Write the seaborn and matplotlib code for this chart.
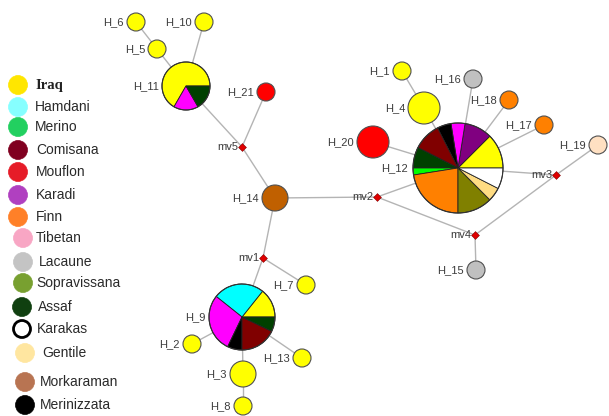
import matplotlib
matplotlib.use("Agg")
import matplotlib.pyplot as plt
from matplotlib.patches import Wedge, Circle
import seaborn as sns
import pandas as pd

sns.set_theme(style="white")
plt.rcParams['font.family'] = ['Liberation Sans', 'DejaVu Sans']

# ---- breeds / colours ----
breeds = ["Iraq", "Hamdani", "Merino", "Comisana", "Mouflon", "Karadi", "Finn", "Tibetan",
          "Lacaune", "Sopravissana", "Assaf", "Karakas", "Gentile", "Morkaraman", "Merinizzata"]
breed_colors = ["#FFFF00", "#00FFFF", "#00FF00", "#800000", "#FF0000", "#800080", "#FF8000", "#FF00FF",
                "#C0C0C0", "#808000", "#004000", "#FFFFFF", "#FFDC82", "#C06000", "#000000"]
legend_colors = ["#FFE600", "#86FFFF", "#22D060", "#800020", "#E61C28", "#B040C0", "#FF8028", "#F8A6C4",
                 "#C4C4C4", "#78A030", "#104010", "#FFFFFF", "#FFE6A0", "#B87452", "#000000"]
legend_y = [85, 107, 127, 150, 172, 195, 217, 238, 262, 283, 307, 329, 353, 382, 405]
legend_cx = [18, 18, 18, 18, 18, 18, 18, 23, 23, 23, 22, 22, 25, 25, 25]
legend_tx = [35, 35, 35, 36, 36, 36, 36, 36, 39, 36, 38, 37, 42, 40, 40]

# ---- single-colour haplotypes ----
hap_names = ["H_6", "H_10", "H_5", "H_21", "H_14", "H_20", "H_4", "H_1", "H_16", "H_18",
             "H_17", "H_19", "H_15", "H_7", "H_13", "H_2", "H_3", "H_8"]
hap_x = [136, 204, 157, 266, 275, 373, 424, 402, 473, 509, 544, 598, 476, 306, 302, 192, 243, 243]
hap_y = [22, 22, 49, 92, 198, 142, 108, 71, 79, 100, 125, 145, 270, 285, 358, 344, 374, 406]
hap_r = [9, 9, 9, 9, 13, 16, 16, 9, 9, 9, 9, 9, 9, 9, 9, 9, 13, 9]
hap_color = ["#FFFF00", "#FFFF00", "#FFFF00", "#FF0000", "#C06000", "#FF0000", "#FFFF00", "#FFFF00",
             "#C0C0C0", "#FF8000", "#FF8000", "#FFE0C2", "#C0C0C0", "#FFFF00", "#FFFF00", "#FFFF00",
             "#FFFF00", "#FFFF00"]

# ---- pie haplotypes ----
pie_names = ["H_11", "H_12", "H_9"]
pie_x = [186, 458, 242]
pie_y = [86, 168, 317]
pie_r = [24, 45, 33]
pie_breeds = [
    ["Iraq", "Tibetan", "Assaf"],
    ["Iraq", "Karadi", "Tibetan", "Merinizzata", "Comisana", "Assaf", "Merino", "Finn",
     "Sopravissana", "Gentile", "Karakas"],
    ["Iraq", "Hamdani", "Tibetan", "Merinizzata", "Comisana", "Assaf"],
]
pie_counts = [
    [4, 1, 1],
    [5, 4, 2, 2, 4, 3, 1, 9, 5, 2, 3],
    [2, 3.5, 4, 1, 2.5, 1],
]

# ---- median vectors ----
mv_names = ["mv5", "mv2", "mv3", "mv4", "mv1"]
mv_x = [242, 377, 556, 475, 263]
mv_y = [147, 197, 175, 235, 258]

# ---- links ----
links = [("H_6", "H_5"), ("H_5", "H_11"), ("H_10", "H_11"), ("H_11", "mv5"), ("H_21", "mv5"),
         ("mv5", "H_14"), ("H_14", "mv2"), ("H_14", "mv1"), ("mv1", "H_7"), ("mv1", "H_9"),
         ("H_9", "H_2"), ("H_9", "H_3"), ("H_3", "H_8"), ("H_9", "H_13"), ("mv2", "H_12"),
         ("mv2", "mv4"), ("mv4", "mv3"), ("mv3", "H_19"), ("mv3", "H_12"), ("mv4", "H_15"),
         ("H_12", "H_20"), ("H_12", "H_4"), ("H_4", "H_1"), ("H_12", "H_16"), ("H_12", "H_18"),
         ("H_12", "H_17")]

pos = {}
for n, x, y in zip(hap_names, hap_x, hap_y):
    pos[n] = (x, y)
for n, x, y in zip(pie_names, pie_x, pie_y):
    pos[n] = (x, y)
for n, x, y in zip(mv_names, mv_x, mv_y):
    pos[n] = (x, y)

W, H = 609, 416
fig = plt.figure(figsize=(W / 100, H / 100), dpi=100)
ax = fig.add_axes([0, 0, 1, 1])
ax.set_xlim(0, W)
ax.set_ylim(H, 0)
ax.axis("off")

# edges
for a, b in links:
    (x1, y1), (x2, y2) = pos[a], pos[b]
    ax.plot([x1, x2], [y1, y2], color="#B4B4B4", lw=1.0, zorder=1, solid_capstyle="round")

# single colour nodes via seaborn (size in points^2 from pixel radius)
px2pt = 72 / 100
df = pd.DataFrame({"name": hap_names, "x": hap_x, "y": hap_y})
sizes = {n: (2 * r * px2pt) ** 2 for n, r in zip(hap_names, hap_r)}
palette = {n: c for n, c in zip(hap_names, hap_color)}
sns.scatterplot(data=df, x="x", y="y", hue="name", palette=palette, size="name", sizes=sizes,
                edgecolor="#505050", linewidth=0.8, legend=False, ax=ax, zorder=3)

# median vectors
dfm = pd.DataFrame({"x": mv_x, "y": mv_y})
sns.scatterplot(data=dfm, x="x", y="y", color="#E00000", s=16, marker="D",
                edgecolor="#800000", linewidth=0.4, legend=False, ax=ax, zorder=4)
ax.set_xlim(0, W)
ax.set_ylim(H, 0)
ax.axis("off")

# pies (screen ccw from east; y axis inverted so negate angles)
cmap = dict(zip(breeds, breed_colors))
for name, cx, cy, r, bl, cl in zip(pie_names, pie_x, pie_y, pie_r, pie_breeds, pie_counts):
    tot = sum(cl)
    start = 0.0
    for b, c in zip(bl, cl):
        ext = 360.0 * c / tot
        w = Wedge((cx, cy), r, -(start + ext), -start, facecolor=cmap[b],
                  edgecolor="#222222", linewidth=0.6, zorder=3)
        ax.add_patch(w)
        start += ext
    ax.add_patch(Circle((cx, cy), r, facecolor="none", edgecolor="#333333", lw=0.8, zorder=3))

# labels
lab_col = "#3C3C3C"
for n, x, y, r in zip(hap_names, hap_x, hap_y, hap_r):
    ax.text(x - r - 3, y, n, ha="right", va="center", fontsize=8, color=lab_col, zorder=5)
for n, x, y, r in zip(pie_names, pie_x, pie_y, pie_r):
    gap = 5 if n == "H_12" else 3
    ax.text(x - r - gap, y, n, ha="right", va="center", fontsize=8, color=lab_col, zorder=5)
for n, x, y in zip(mv_names, mv_x, mv_y):
    ax.text(x - 4, y, n, ha="right", va="center", fontsize=8, color=lab_col, zorder=5)

# legend
for b, c, y, cx, tx in zip(breeds, legend_colors, legend_y, legend_cx, legend_tx):
    ec = "#000000" if b == "Karakas" else c
    lw = 2.0 if b == "Karakas" else 0.5
    ax.add_patch(Circle((cx, y), 9.5 if b != "Karakas" else 8.5, facecolor=c, edgecolor=ec,
                        lw=lw, zorder=3))
    if b == "Iraq":
        ax.text(tx, y, b, ha="left", va="center", fontsize=10.5, color="#222222",
                family=["Liberation Serif", "DejaVu Serif"], fontweight="bold", zorder=5)
    else:
        ax.text(tx, y, b, ha="left", va="center", fontsize=10, color="#2A2A2A", zorder=5)

fig.savefig("out.png", dpi=100)
